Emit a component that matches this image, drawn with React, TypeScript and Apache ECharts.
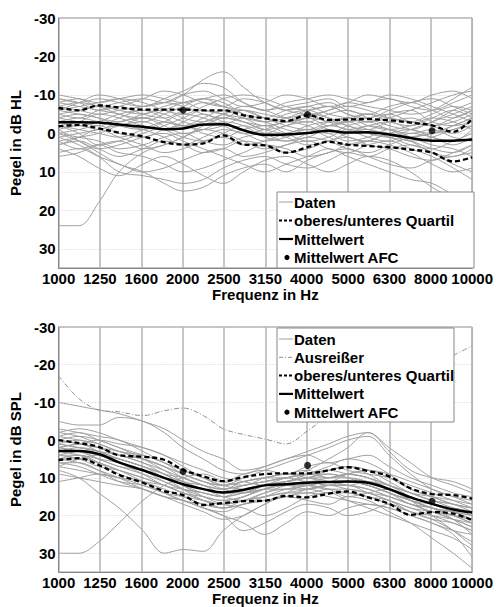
import React, { useEffect, useRef } from "react";
import * as echarts from "echarts";

// Nominal sample frequencies (1/6 octave) and axis tick labels (1/3 octave)
const freqs = [1000, 1120, 1250, 1400, 1600, 1800, 2000, 2240, 2500, 2800, 3150, 3550, 4000, 4500, 5000, 5600, 6300, 7100, 8000, 9000, 10000];
const freqLabels = ["1000", "1250", "1600", "2000", "2500", "3150", "4000", "5000", "6300", "8000", "10000"];
const yTicks = [-30, -20, -10, 0, 10, 20, 30];

// ---------- Top panel: dB HL ----------
const hlMean = [-2.9, -2.9, -2.8, -2.3, -1.7, -1.1, -1.3, -2.3, -2.4, -0.8, 0.4, 0.3, -0.1, -0.7, -0.2, -0.3, 0.3, 1.2, 1.9, 1.9, 1.6];
const hlUpperQ = [-6.6, -6.0, -7.3, -6.7, -6.2, -6.2, -6.2, -6.0, -6.0, -4.7, -3.9, -3.2, -4.7, -3.5, -3.6, -3.7, -3.4, -2.8, -2.1, -0.4, -3.8];
const hlLowerQ = [-1.8, -2.2, -1.3, -0.2, 0.8, 2.3, 2.9, 2.6, 0.5, 2.9, 3.1, 5.0, 3.6, 2.2, 2.9, 3.3, 3.6, 4.2, 5.0, 7.3, 6.2];
const hlAfcFreqs = [2000, 4000, 8000];
const hlAfc = [-6.0, -4.9, -0.7];
const hlData = [
  [24, 24, 18, 10, 5, 3, 1, -2, -4, -3, -2, -3, -4, -2, -3, -5, -4, -3, -2, -4, -6],
  [-9, -8, -9, -8, -7, -9, -11, -13, -12, -8, -6, -7, -8, -9, -7, -8, -9, -7, -6, -8, -10],
  [-8, -9, -7, -8, -9, -8, -10, -14, -16, -12, -8, -6, -5, -6, -8, -7, -6, -5, -6, -9, -12],
  [-6, -7, -8, -9, -8, -6, -5, -7, -9, -10, -9, -7, -6, -7, -5, -4, -6, -8, -9, -7, -5],
  [-7, -6, -5, -6, -7, -8, -7, -5, -4, -6, -5, -4, -5, -3, -4, -5, -3, -2, -4, -6, -4],
  [-5, -4, -6, -7, -5, -4, -6, -8, -7, -5, -4, -6, -7, -5, -4, -3, -5, -6, -3, -2, -3],
  [-4, -5, -4, -3, -5, -6, -4, -3, -5, -7, -6, -4, -3, -5, -6, -4, -2, -1, -3, -5, -7],
  [-3, -4, -3, -2, -4, -3, -2, -4, -6, -4, -2, -3, -5, -4, -2, -1, -3, -4, -2, 0, -2],
  [-2, -3, -5, -4, -2, -1, -3, -5, -3, -1, 0, -2, -3, -1, 0, -2, -1, 1, 0, -1, -3],
  [-1, -2, -1, -3, -4, -2, 0, -1, -3, -2, 1, 2, 0, -2, -1, 1, 2, 0, 1, 3, 1],
  [0, -1, -2, 0, 1, -1, -2, 0, 1, -1, -2, 0, 2, 1, -1, 0, 1, 3, 4, 2, 0],
  [2, 1, 0, -2, -3, -1, 1, 2, 0, -2, 0, 2, 1, -1, 1, 2, 0, 2, 5, 6, 4],
  [3, 2, 4, 6, 4, 2, 3, 5, 4, 2, 3, 5, 4, 2, 1, 3, 4, 6, 7, 5, 3],
  [5, 4, 6, 8, 10, 9, 7, 5, 4, 6, 5, 3, 2, 4, 5, 3, 2, 4, 6, 9, 12],
  [1, 3, 6, 10, 11, 12, 13, 12, 9, 7, 6, 8, 9, 7, 5, 6, 4, 3, 5, 8, 10],
  [-1, 2, 5, 8, 10, 13, 15, 14, 11, 9, 8, 10, 7, 5, 4, 6, 8, 9, 7, 6, 5],
  [4, 6, 9, 11, 8, 6, 8, 11, 13, 10, 7, 6, 8, 10, 8, 6, 7, 10, 14, 17, 20],
  [0, 2, 4, 3, 1, 0, 2, 4, 6, 8, 10, 8, 6, 4, 6, 8, 10, 12, 13, 16, 18],
  [-10, -9, -8, -9, -10, -9, -8, -9, -10, -8, -6, -8, -9, -10, -9, -8, -10, -9, -7, -5, -3],
  [-6, -8, -10, -9, -7, -8, -10, -11, -9, -7, -8, -10, -9, -7, -8, -10, -9, -8, -10, -11, -9],
  [6, 5, 3, 2, 4, 3, 1, -1, 0, 2, 4, 3, 1, 2, 4, 5, 3, 1, 0, -2, -4],
  [-2, 0, 3, 2, 0, -2, -4, -6, -5, -3, -1, 0, -2, -3, -2, 0, 1, -1, -3, -6, -8],
  [2, 4, 3, 5, 6, 8, 10, 9, 7, 5, 3, 4, 6, 5, 3, 2, 3, 5, 8, 10, 9],
  [-8, -7, -6, -5, -3, -5, -7, -9, -8, -5, -3, -4, -6, -7, -5, -3, -4, -6, -8, -10, -11],
  [-5, -6, -7, -6, -5, -7, -8, -6, -5, -4, -3, -5, -6, -4, -3, -4, -5, -3, -2, -3, -5],
  [-4, -3, -2, -4, -6, -5, -3, -2, -4, -3, -1, -2, -4, -3, -1, -2, -3, -1, 0, -2, -4],
  [-6, -5, -4, -2, -1, -3, -5, -4, -2, 0, -1, -3, -2, 0, -2, -3, -1, 0, -1, 1, 2],
  [-3, -2, -3, -5, -6, -4, -2, -3, -5, -6, -4, -2, -1, -3, -4, -2, -1, -2, -4, -3, -1],
  [1, 0, -1, -2, -1, 1, 3, 1, -1, 0, 2, 1, -1, 0, 2, 1, -1, 1, 3, 4, 6],
  [-7, -8, -7, -5, -4, -6, -8, -9, -7, -6, -4, -3, -4, -6, -7, -6, -4, -3, -5, -7, -6],
  [3, 1, -1, 1, 3, 5, 4, 2, 1, 3, 2, 0, -1, 1, 3, 2, 0, -1, 1, 2, -1],
  [-2, -1, 0, 1, -1, -3, -2, -1, -2, -4, -3, -1, 0, -2, -3, -1, 0, 2, 1, -1, -2],
  [-9, -8, -6, -7, -9, -11, -10, -8, -7, -9, -8, -6, -7, -8, -6, -5, -7, -8, -6, -4, -6],
  [0, 1, 2, 4, 3, 1, 0, 2, 3, 1, 0, 1, 3, 2, 0, -1, 1, 2, 4, 5, 3],
];

// ---------- Bottom panel: dB SPL ----------
const splMean = [2.9, 2.9, 3.7, 5.9, 8.0, 10.0, 11.7, 13.0, 13.9, 13.2, 12.0, 11.7, 11.3, 11.1, 11.0, 11.3, 13.0, 15.2, 16.9, 18.4, 19.2];
const splUpperQ = [0.0, 0.8, 1.8, 4.0, 4.4, 5.2, 7.9, 9.6, 10.9, 9.8, 9.0, 8.8, 8.8, 8.0, 7.2, 8.2, 9.6, 12.8, 14.3, 14.6, 15.5];
const splLowerQ = [5.3, 4.8, 6.6, 9.2, 11.3, 13.5, 14.6, 17.2, 16.7, 16.2, 16.1, 14.8, 15.2, 14.2, 13.6, 15.2, 16.9, 19.8, 19.1, 19.5, 21.2];
const splOutlier = [-17, -11, -8, -7.5, -6.5, -7.8, -8.5, -6.5, -3, -1.5, -0.3, 1, -2.5, -6.5, -10, -13, -16, -18, -20, -22.5, -25];
const splAfcFreqs = [2000, 4000, 8000];
const splAfc = [8.3, 6.7, 16.2];
const splData = [
  [30, 30, 27, 22, 16, 12, 10, 9, 11, 12, 10, 9, 8, 10, 9, 8, 10, 13, 15, 17, 18],
  [8, 10, 14, 18, 24, 30, 29, 29.5, 24, 20, 17, 14, 12, 13, 15, 14, 13, 16, 20, 24, 28],
  [-10, -9, -8, -7, -5, -3, 0, 3, 5, 8, 7, 5, 4, 6, 5, 4, 7, 10, 12, 14, 15],
  [-5, -4, -4, -6, -5, -2, 2, 5, 8, 9, 7, 5, 3, 1, -1, -2, 3, 8, 10, 11, 13],
  [-3, -2, -1, 0, 3, 6, 8, 10, 11, 9, 8, 9, 7, 6, 8, 9, 10, 12, 14, 16, 18],
  [-1, 0, 1, 3, 5, 7, 9, 11, 12, 11, 10, 9, 10, 11, 9, 8, 9, 11, 13, 15, 17],
  [0, 1, 2, 4, 6, 9, 11, 12, 13, 12, 11, 10, 9, 8, 7, 8, 11, 14, 16, 17, 19],
  [1, 2, 3, 5, 7, 9, 12, 14, 15, 13, 12, 11, 10, 10, 9, 10, 12, 15, 17, 19, 21],
  [2, 3, 4, 6, 8, 10, 11, 13, 14, 13, 12, 12, 11, 12, 11, 12, 14, 16, 18, 19, 20],
  [3, 2, 3, 6, 9, 12, 13, 14, 15, 14, 13, 12, 13, 12, 11, 12, 14, 17, 18, 20, 22],
  [4, 3, 5, 7, 9, 11, 13, 15, 16, 15, 13, 12, 12, 11, 12, 13, 15, 17, 19, 21, 23],
  [5, 4, 6, 9, 11, 13, 15, 17, 18, 16, 15, 14, 13, 12, 13, 14, 16, 18, 20, 22, 24],
  [6, 6, 8, 11, 13, 15, 16, 18, 19, 17, 16, 15, 14, 15, 16, 17, 18, 20, 22, 25, 31],
  [9, 10, 11, 12, 13, 15, 17, 19, 21, 20, 17, 15, 16, 17, 15, 16, 19, 22, 26, 30, 34],
  [11, 10, 9, 10, 12, 14, 16, 18, 20, 24, 22, 19, 17, 18, 20, 19, 17, 19, 21, 24, 27],
  [7, 5, 4, 5, 7, 9, 12, 15, 17, 18, 20, 18, 15, 14, 16, 18, 20, 22, 24, 26, 29],
  [2, 1, 0, 1, 2, 4, 7, 10, 12, 10, 8, 6, 4, 2, 0, -1, 4, 9, 13, 15, 16],
  [-2, -3, -2, 0, 2, 4, 6, 8, 10, 11, 12, 11, 9, 7, 5, 6, 9, 13, 15, 17, 18],
  [4, 5, 7, 8, 10, 12, 14, 16, 17, 16, 14, 13, 13, 14, 14, 15, 17, 19, 20, 21, 22],
  [1, 0, 2, 4, 5, 7, 10, 12, 13, 11, 10, 9, 9, 10, 10, 11, 13, 15, 17, 18, 19],
  [3, 4, 6, 8, 10, 12, 14, 15, 16, 15, 13, 13, 12, 11, 11, 12, 14, 16, 18, 20, 21],
  [6, 7, 9, 11, 12, 14, 15, 16, 17, 16, 15, 14, 14, 13, 14, 15, 16, 18, 19, 21, 23],
  [0, -1, 0, 2, 4, 6, 9, 11, 12, 11, 10, 10, 8, 5, 2, -2, 2, 6, 10, 12, 14],
  [5, 6, 8, 10, 13, 15, 16, 18, 20, 22, 25, 22, 19, 20, 18, 17, 18, 20, 22, 24, 25],
  [1, 2, 3, 4, 6, 8, 10, 12, 14, 14, 13, 11, 10, 9, 10, 11, 12, 14, 16, 17, 18],
  [-1, -2, 0, 2, 5, 8, 11, 13, 14, 12, 11, 10, 11, 10, 9, 10, 12, 14, 15, 16, 17],
  [2, 3, 5, 7, 8, 10, 12, 13, 15, 16, 14, 12, 11, 12, 12, 13, 15, 17, 19, 20, 21],
  [3, 3, 4, 5, 7, 10, 13, 16, 17, 15, 13, 11, 10, 11, 12, 11, 13, 16, 18, 19, 20],
  [0, 1, 2, 3, 5, 7, 9, 11, 13, 14, 12, 10, 9, 9, 10, 12, 14, 16, 17, 18, 19],
  [5, 5, 6, 8, 11, 14, 16, 17, 18, 17, 16, 15, 13, 12, 12, 14, 16, 19, 21, 22, 24],
  [-2, -1, 1, 3, 4, 6, 8, 10, 12, 13, 12, 11, 10, 8, 7, 9, 12, 14, 16, 18, 20],
  [4, 4, 5, 6, 8, 11, 13, 14, 15, 14, 12, 11, 12, 13, 13, 14, 15, 17, 18, 20, 22],
  [2, 1, 3, 5, 7, 9, 10, 12, 13, 12, 11, 10, 9, 8, 9, 10, 13, 15, 17, 19, 21],
  [7, 8, 9, 10, 11, 12, 14, 16, 18, 17, 15, 13, 12, 11, 11, 12, 14, 16, 18, 21, 25],
];

const FONT = "'Liberation Sans', Arial, sans-serif";
const GRAY = "#a0a0a0";
const FS = 15;

// third-octave band position of a frequency (log scale)
const bandPos = (f: number) => 10 * Math.log10(f / 1000);
const toPts = (fs: number[], vals: number[]) => vals.map((v, i) => [bandPos(fs[i]), v]);

function App() {
  const ref = useRef<HTMLDivElement>(null);
  useEffect(() => {
    if (!ref.current) return;
    const chart = echarts.init(ref.current, null, { renderer: "svg" });

    const grids = [
      { left: 52, right: 22, top: 18, height: 250, show: true, borderColor: "#888", borderWidth: 1 },
      { left: 52, right: 22, top: 327, height: 251, show: true, borderColor: "#888", borderWidth: 1 },
    ];
    const mkX = (i: number) => ({
      type: "value",
      gridIndex: i,
      min: 0,
      max: 10,
      interval: 1,
      axisLine: { show: true, onZero: false, lineStyle: { color: "#888" } },
      axisTick: { show: false },
      splitLine: { show: true, lineStyle: { color: "#b4b4b4", width: 1.5 } },
      axisLabel: {
        formatter: (v: number) => freqLabels[Math.round(v)] ?? "",
        color: "#000",
        fontWeight: "bold",
        fontSize: FS,
        fontFamily: FONT,
        margin: 3,
      },
      name: "Frequenz in Hz",
      nameLocation: "middle",
      nameGap: 16,
      nameTextStyle: { color: "#000", fontWeight: "bold", fontSize: FS, fontFamily: FONT },
    });
    const mkY = (i: number, name: string) => ({
      type: "value",
      gridIndex: i,
      inverse: true,
      min: -30,
      max: 35,
      interval: 10,
      axisLine: { show: true, onZero: false, lineStyle: { color: "#888" } },
      axisTick: { show: false },
      splitLine: { show: true, lineStyle: { color: "#cfcfcf", type: [1, 2], width: 1 } },
      axisLabel: {
        formatter: (v: number) => (yTicks.includes(v) ? String(v) : ""),
        color: "#000",
        fontWeight: "bold",
        fontSize: FS,
        fontFamily: FONT,
        margin: 3,
      },
      name,
      nameLocation: "middle",
      nameGap: 26,
      nameTextStyle: { color: "#000", fontWeight: "bold", fontSize: FS, fontFamily: FONT },
    });

    const series: any[] = [];
    const addPanel = (
      gi: number,
      data: number[][],
      upper: number[],
      lower: number[],
      mean: number[],
      afcF: number[],
      afc: number[],
      outlier?: number[]
    ) => {
      data.forEach((d) =>
        series.push({
          type: "line",
          xAxisIndex: gi,
          yAxisIndex: gi,
          data: toPts(freqs, d),
          smooth: 0.35,
          symbol: "none",
          silent: true,
          lineStyle: { color: GRAY, width: 1 },
          z: 2,
        })
      );
      if (outlier) {
        series.push({
          type: "line",
          xAxisIndex: gi,
          yAxisIndex: gi,
          data: toPts(freqs, outlier),
          smooth: 0.35,
          symbol: "none",
          silent: true,
          lineStyle: { color: "#909090", width: 1, type: [5, 2, 1, 2] },
          z: 3,
        });
      }
      [upper, lower].forEach((q) =>
        series.push({
          type: "line",
          xAxisIndex: gi,
          yAxisIndex: gi,
          data: toPts(freqs, q),
          smooth: 0.35,
          symbol: "none",
          silent: true,
          lineStyle: { color: "#000", width: 2.3, type: [5, 3] },
          z: 4,
        })
      );
      series.push({
        type: "line",
        xAxisIndex: gi,
        yAxisIndex: gi,
        data: toPts(freqs, mean),
        smooth: 0.35,
        symbol: "none",
        silent: true,
        lineStyle: { color: "#000", width: 2.5 },
        z: 5,
      });
      series.push({
        type: "scatter",
        xAxisIndex: gi,
        yAxisIndex: gi,
        data: toPts(afcF, afc),
        symbol: "circle",
        symbolSize: 7,
        itemStyle: { color: "#000" },
        silent: true,
        z: 6,
      });
    };
    addPanel(0, hlData, hlUpperQ, hlLowerQ, hlMean, hlAfcFreqs, hlAfc);
    addPanel(1, splData, splUpperQ, splLowerQ, splMean, splAfcFreqs, splAfc, splOutlier);

    const txtStyle = (x: number, y: number, text: string) => ({
      type: "text",
      x,
      y,
      z: 101,
      style: {
        text,
        fill: "#000",
        font: `bold ${FS}px ${FONT}`,
        textVerticalAlign: "middle",
        verticalAlign: "middle",
      },
    });
    const lineEl = (x1: number, x2: number, y: number, stroke: string, lw: number, dash?: number[]) => ({
      type: "line",
      z: 101,
      shape: { x1, y1: y, x2, y2: y },
      style: { stroke, lineWidth: lw, lineDash: dash },
    });
    const legend = (
      bx: number,
      by: number,
      bw: number,
      bh: number,
      rows: { label: string; kind: string }[],
      y0: number,
      dy: number
    ) => {
      const els: any[] = [
        {
          type: "rect",
          z: 100,
          shape: { x: bx, y: by, width: bw, height: bh },
          style: { fill: "#fff", stroke: "#888", lineWidth: 1 },
        },
      ];
      rows.forEach((r, i) => {
        const y = y0 + i * dy;
        const lx1 = bx + 2;
        const lx2 = bx + 16;
        if (r.kind === "data") els.push(lineEl(lx1, lx2, y, GRAY, 1));
        if (r.kind === "outlier") els.push(lineEl(lx1, lx2, y, "#909090", 1, [4, 2, 1, 2]));
        if (r.kind === "quart") els.push(lineEl(lx1, lx2, y, "#000", 2, [3, 2]));
        if (r.kind === "mean") els.push(lineEl(lx1, lx2, y, "#000", 2.2));
        if (r.kind === "afc")
          els.push({ type: "circle", z: 101, shape: { cx: (lx1 + lx2) / 2 + 1, cy: y, r: 2.6 }, style: { fill: "#000" } });
        els.push(txtStyle(bx + 17, y, r.label));
      });
      return els;
    };

    const graphic = [
      ...legend(
        277,
        192,
        197,
        76,
        [
          { label: "Daten", kind: "data" },
          { label: "oberes/unteres Quartil", kind: "quart" },
          { label: "Mittelwert", kind: "mean" },
          { label: "Mittelwert AFC", kind: "afc" },
        ],
        202,
        18.5
      ),
      ...legend(
        277,
        328,
        177,
        94,
        [
          { label: "Daten", kind: "data" },
          { label: "Ausreißer", kind: "outlier" },
          { label: "oberes/unteres Quartil", kind: "quart" },
          { label: "Mittelwert", kind: "mean" },
          { label: "Mittelwert AFC", kind: "afc" },
        ],
        339,
        18.3
      ),
    ];

    chart.setOption({
      animation: false,
      backgroundColor: "#fff",
      grid: grids,
      xAxis: [mkX(0), mkX(1)],
      yAxis: [mkY(0, "Pegel in dB HL"), mkY(1, "Pegel in dB SPL")],
      series,
      graphic,
    });
    return () => chart.dispose();
  }, []);

  return (
    <div
      ref={ref}
      style={{ position: "absolute", left: 0, top: 0, width: 496, height: 607, background: "#fff" }}
    />
  );
}

export default App;
